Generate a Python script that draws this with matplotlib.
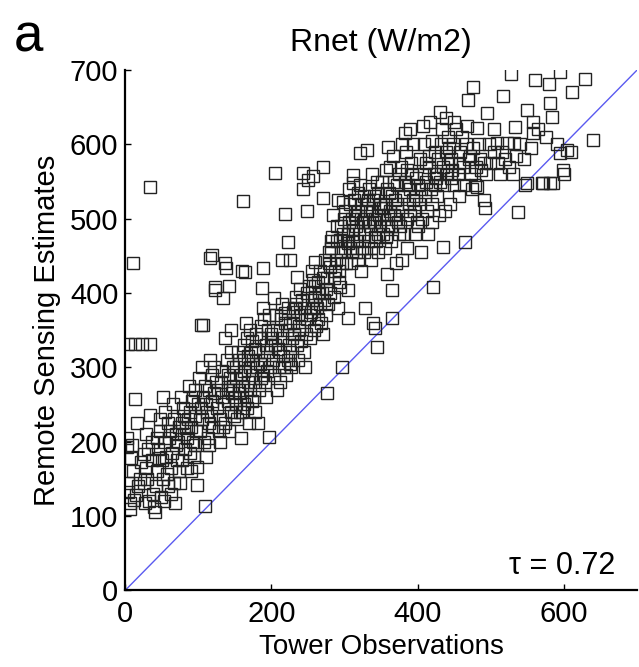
import matplotlib.pyplot as plt

tower = [
    3, 4, 4, 7, 11, 4, 14, 23, 16, 14, 10, 8, 18, 12, 2, 20, 6, 15, 22, 9,
    34, 25, 27, 34, 34, 38, 30, 28, 36, 29, 32, 39, 41, 45, 48, 42, 47, 44, 49, 37, 26, 43, 31, 46,
    52, 57, 55, 50, 58, 53, 56, 62, 68, 64, 70, 66, 72, 61, 69, 65, 74, 59, 71, 54, 63, 67, 73, 60, 51,
    75, 78, 77, 79, 93, 98, 98, 85, 90, 95, 82, 88, 97, 84, 92, 99, 87, 94, 80, 86, 91, 96, 83, 89, 76, 81, 90, 95,
    103, 109, 105, 110, 115, 102, 112, 118, 106, 114, 108, 116, 119, 101, 111, 119, 123, 116, 123, 107,
    113, 117, 121, 104, 120, 124, 109, 122, 115, 105,
    137, 134, 138, 142, 130, 135, 140, 145, 128, 132, 143, 148, 126, 136, 141, 146, 131, 139, 144, 149,
    127, 133, 147, 129, 142, 136, 150, 134, 145, 140,
    159, 164, 161, 152, 155, 158, 162, 165, 168, 170, 172, 153, 157, 163, 166, 171, 174, 156, 160, 167,
    173, 151, 169, 154, 162, 175, 158, 165, 170, 156, 163, 168, 160, 173, 152,
    187, 189, 176, 178, 180, 182, 185, 188, 190, 192, 195, 198, 177, 183, 186, 191, 194, 197, 179, 184,
    199, 181, 193, 196, 188, 200, 185, 190, 178, 194,
    203, 205, 219, 223, 215, 225, 219, 202, 205, 208, 210, 212, 215, 218, 220, 222, 224, 206, 211, 214,
    217, 221, 204, 209, 213, 216, 223, 201, 207, 225,
    243, 257, 250, 243, 248, 235, 226, 228, 230, 232, 235, 238, 240, 242, 245, 247, 249, 227, 233, 236,
    239, 241, 244, 246, 229, 231, 237, 234, 248, 226,
    260, 257, 271, 271, 276, 252, 255, 258, 260, 262, 265, 268, 270, 272, 274, 253, 256, 259, 263, 266,
    269, 273, 251, 254, 261, 264, 267, 275, 257, 270,
    280, 291, 298, 294, 294, 297, 276, 278, 280, 282, 285, 288, 290, 292, 295, 298, 277, 283, 286, 289,
    293, 296, 299, 279, 284, 287, 291, 295, 281, 300,
    304, 304, 304, 312, 312, 321, 302, 305, 308, 310, 312, 315, 318, 320, 322, 324, 301, 306, 309, 313,
    316, 319, 323, 303, 307, 311, 314, 317, 321, 325, 310, 318, 322, 306,
    331, 328, 342, 344, 339, 326, 328, 330, 332, 335, 338, 340, 342, 345, 348, 327, 333, 336, 339, 341,
    344, 347, 329, 334, 337, 343, 346, 349, 332, 336, 340, 345, 350, 326,
    360, 362, 365, 365, 352, 354, 356, 358, 360, 362, 365, 368, 370, 372, 374, 351, 355, 357, 359, 363,
    366, 369, 371, 373, 353, 361, 364, 367, 375, 356, 370, 358,
    376, 378, 380, 382, 385, 388, 390, 392, 395, 398, 377, 381, 384, 387, 389, 391, 394, 397, 399, 379,
    383, 386, 393, 396, 400, 378, 390, 385,
    421, 402, 405, 408, 410, 412, 415, 418, 420, 422, 424, 403, 406, 409, 413, 416, 419, 423, 401, 407,
    411, 414, 417, 425, 404, 420,
    435, 431, 426, 428, 430, 432, 435, 438, 440, 442, 445, 448, 427, 433, 436, 439, 441, 444, 446, 449,
    429, 437, 443, 447, 450,
    465, 481, 481, 476, 469, 495, 490, 499, 490, 492, 455, 458, 460, 462, 466, 470, 473, 476, 480, 484,
    487, 452, 456, 463, 468, 472, 478, 485, 493, 497, 457, 474,
    509, 522, 531, 510, 517, 528, 533, 537, 547, 550, 550, 558, 558, 504, 512, 520, 525, 540, 545, 505,
    515, 530, 535, 555,
    561, 570, 572, 579, 581, 581, 584, 585, 595, 595, 599, 604, 640, 575, 590, 565, 600, 610, 629, 611,
]
remote = [
    193, 145, 132, 117, 440, 332, 332, 332, 225, 258, 160, 178, 140, 122, 205, 150, 110, 128, 172, 196,
    332, 184, 118, 236, 542, 130, 150, 165, 200, 210, 120, 112, 105, 190, 215, 140, 230, 160, 125, 175, 145, 205, 190, 178,
    260, 157, 200, 175, 225, 120, 180, 130, 117, 185, 210, 230, 200, 215, 195, 250, 160, 140, 175, 240, 165, 145, 220, 205, 150,
    145, 175, 225, 245, 260, 141, 166, 205, 220, 235, 190, 240, 215, 165, 200, 250, 275, 180, 210, 230, 255, 195, 218, 185, 260, 235, 160, 270,
    357, 114, 230, 250, 270, 215, 240, 290, 260, 225, 200, 310, 255, 285, 180, 451, 408, 447, 404, 357,
    205, 235, 265, 245, 220, 280, 275, 300, 195, 300,
    440, 393, 433, 410, 230, 250, 270, 240, 215, 260, 285, 300, 245, 225, 255, 265, 280, 310, 320, 235,
    270, 295, 275, 200, 215, 340, 260, 220, 350, 290,
    429, 428, 524, 250, 270, 290, 310, 260, 280, 300, 320, 230, 240, 330, 245, 270, 290, 310, 275, 340,
    255, 285, 225, 320, 250, 310, 205, 360, 350, 265, 295, 315, 240, 335, 300,
    407, 433, 260, 280, 300, 320, 340, 290, 310, 330, 350, 300, 240, 270, 355, 280, 320, 370, 345, 305,
    330, 225, 260, 206, 380, 345, 285, 365, 325, 295,
    393, 561, 506, 468, 444, 445, 373, 310, 330, 350, 300, 320, 340, 360, 290, 310, 330, 370, 280, 385,
    300, 350, 290, 325, 365, 315, 380, 340, 270, 305,
    561, 558, 552, 540, 511, 421, 320, 340, 360, 380, 330, 350, 370, 390, 320, 345, 365, 300, 395, 310,
    405, 335, 380, 300, 375, 345, 355, 385, 400, 360,
    442, 417, 569, 528, 265, 370, 390, 350, 410, 380, 400, 360, 420, 390, 370, 340, 430, 395, 365, 430,
    400, 445, 410, 375, 355, 415, 385, 405, 380, 345,
    435, 525, 522, 408, 471, 300, 420, 440, 400, 460, 420, 445, 470, 430, 455, 480, 385, 475, 395, 490,
    415, 440, 500, 455, 505, 430, 380, 490, 470, 460,
    404, 467, 366, 548, 559, 588, 440, 480, 460, 500, 470, 490, 510, 480, 520, 460, 510, 495, 440, 525,
    455, 535, 500, 470, 520, 485, 505, 470, 545, 495, 455, 445, 430, 540,
    592, 380, 353, 327, 359, 480, 500, 520, 470, 490, 510, 530, 500, 480, 520, 455, 540, 460, 525, 475,
    550, 505, 510, 495, 560, 470, 535, 490, 525, 445, 495, 455, 515, 530,
    596, 569, 404, 367, 480, 500, 520, 540, 490, 510, 530, 550, 500, 520, 480, 550, 460, 565, 505, 470,
    585, 525, 545, 495, 515, 535, 490, 505, 560, 475, 440, 425,
    490, 510, 530, 550, 500, 520, 540, 560, 510, 530, 570, 480, 590, 545, 505, 575, 525, 555, 495, 600,
    615, 460, 600, 480, 545, 445, 620, 565,
    408, 520, 540, 560, 530, 550, 570, 540, 520, 560, 590, 580, 500, 600, 510, 585, 605, 545, 490, 625,
    575, 480, 630, 555, 455, 495,
    462, 643, 560, 580, 550, 600, 570, 590, 560, 610, 580, 600, 530, 620, 545, 635, 575, 520, 555, 630,
    505, 510, 595, 565, 545,
    468, 542, 622, 677, 660, 642, 575, 575, 525, 515, 560, 590, 610, 570, 600, 580, 560, 595, 570, 600,
    565, 620, 575, 545, 625, 585, 545, 580, 560, 600, 530, 540,
    602, 602, 602, 575, 665, 695, 623, 509, 545, 548, 646, 630, 615, 590, 560, 580, 570, 600, 580, 620,
    590, 560, 585, 595,
    686, 548, 548, 681, 548, 655, 637, 548, 698, 588, 565, 592, 606, 610, 600, 620, 560, 590, 688, 670,
]

plt.rcParams['font.family'] = ['Liberation Sans', 'DejaVu Sans']

fig = plt.figure(figsize=(6.39, 6.67), dpi=100)
ax = fig.add_axes([0.196, 0.115, 0.801, 0.78])

ax.plot([0, 700], [0, 700], color='#5a5af0', lw=1, zorder=1)
ax.plot(tower, remote, 's', ms=9, mfc='none', mec='#222222', mew=1.0, zorder=2)

ax.set_xlim(0, 700)
ax.set_ylim(0, 700)
ax.set_xticks([0, 200, 400, 600])
ax.set_yticks(range(0, 701, 100))
ax.tick_params(direction='in', length=4, width=1, labelsize=21)
ax.tick_params(axis='x', pad=7)
ax.tick_params(axis='y', pad=5)
for s in ['top', 'right']:
    ax.spines[s].set_visible(False)
for s in ['left', 'bottom']:
    ax.spines[s].set_linewidth(1.6)

ax.set_xlabel('Tower Observations', fontsize=20, labelpad=4)
ax.set_ylabel('Remote Sensing Estimates', fontsize=21, labelpad=6)
ax.set_title('Rnet (W/m2)', fontsize=23, pad=14)
ax.text(670, 33, 'τ = 0.72', fontsize=22, ha='right', va='center')
fig.text(0.045, 0.944, 'a', fontsize=38, ha='center', va='center')

fig.savefig('out.png', dpi=100)
